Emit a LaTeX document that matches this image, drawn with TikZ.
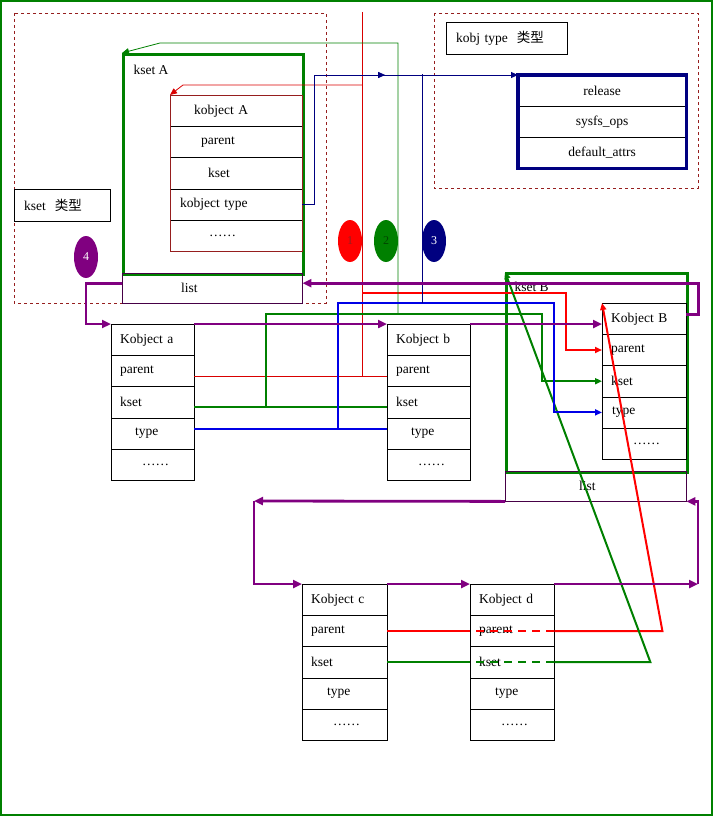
\documentclass[tikz,border=0pt]{standalone}
\usepackage{fontspec}
\setmainfont{Liberation Serif}
\newfontfamily\cjk{Noto Sans CJK SC}
\usetikzlibrary{arrows.meta,shapes.geometric,decorations.markings}
\definecolor{kgreen}{RGB}{0,128,0}
\definecolor{kdgreen}{RGB}{0,70,0}
\definecolor{kred}{RGB}{255,0,0}
\definecolor{kdred}{RGB}{150,30,30}
\definecolor{knavy}{RGB}{0,0,128}
\definecolor{kblue}{RGB}{0,0,230}
\definecolor{kpurple}{RGB}{128,0,128}
\definecolor{kdpurple}{RGB}{70,0,70}

\begin{document}
\begin{tikzpicture}
[x=1pt,y=-1pt,font=\fontsize{13.5}{15}\selectfont,
  >={Triangle[length=7pt,width=6pt]},
  cell/.style={draw,anchor=north west,minimum height=31.2pt,inner sep=0pt,align=left},
  titlebox/.style={draw,anchor=north west,minimum height=32pt,inner sep=0pt,align=left},
  setbox/.style={draw=kgreen,line width=3pt,anchor=north west,inner sep=0pt},
  listbox/.style={draw=kdpurple,anchor=north west,minimum height=30pt,inner sep=0pt,align=left},
  typebox/.style={draw=kdred,dashed},
  badge/.style={ellipse,minimum width=24pt,minimum height=42pt,inner sep=0pt,font=\fontsize{12}{14}\selectfont},
  redline/.style={kred,line width=2pt},
  redthin/.style={kred!85!black,line width=0.8pt},
  greenline/.style={kgreen,line width=2pt},
  greenthin/.style={kgreen,line width=0.8pt},
  blueline/.style={kblue,line width=2pt},
  navythin/.style={knavy,line width=0.9pt},
  listline/.style={kpurple,line width=2.8pt,>={Triangle[length=9pt,width=8pt]}}]
\useasboundingbox (0,0) rectangle (713,816);
\draw[kgreen,line width=2pt] (1,1) rectangle (712,815);

%% type areas
\draw[typebox] (14,13) rectangle (326,303);
\draw[typebox] (434,13) rectangle (698,188);
\node[titlebox,text width=96pt] (ksettitle) at (14,189) {\hspace*{10pt}kset\ \ {\cjk 类型}};
\node[titlebox,text width=121pt] (kobjtitle) at (446,22) {\hspace*{10pt}kobj type\ \ {\cjk 类型}};

%% kobj type
\foreach \txt [count=\i] in {release, sysfs\_ops, default\_attrs} {
  \node[cell,text width=168pt,align=center] (kt\i) at (518,{75+31*(\i-1)}) {\txt};
}
\draw[knavy,line width=3.5pt] (kt1.north west) rectangle (kt3.south east);

%% kset A
\node[setbox,minimum width=180pt,minimum height=220pt,
  label={[anchor=north west,xshift=8pt,yshift=-9pt]north west:kset A}] (ksetA) at (122,53) {};
\foreach \txt/\ind [count=\i] in {kobject A/24, parent/31, kset/38, kobject type/10, ……/39} {
  \node[cell,text width=132pt] (kA\i) at (170,{95+31.2*(\i-1)}) {\hspace*{\ind pt}\txt};
}
\draw[kdred] (kA1.north west) rectangle (kA5.south east);
\node[listbox,text width=180pt] (listA) at (122,273) {\hspace*{59pt}list};

%% kset B
\node[setbox,minimum width=181pt,minimum height=199pt,
  label={[anchor=north west,xshift=6pt,yshift=-7pt]north west:kset B}] (ksetB) at (505,272) {};
\node[listbox,text width=181pt] (listB) at (505,471) {\hspace*{74pt}list};

%% kobjects
\foreach \tb/\x/\y/\w/\ti/\nm in {a/111/324/83/24/Kobject a, b/387/324/83/24/Kobject b,
    B/602/303/84/10/Kobject B, c/302/584/85/25/Kobject c, d/470/584/84/25/Kobject d} {
  \foreach \txt/\ind [count=\i] in {\nm/9, parent/9, kset/9, type/\ti, ……/31} {
    \node[cell,text width=\w pt] (k\tb\i) at (\x,{\y+31.2*(\i-1)}) {\hspace*{\ind pt}\txt};
  }
}

%% badges
\foreach \n/\x/\y/\c/\t in {1/350/241/kred/kdred, 2/386/241/kgreen/kdgreen,
    3/434/241/knavy/white, 4/86/257/kpurple/white} {
  \node[badge,fill=\c,text=\t] (badge\n) at (\x,\y) {\n};
}

%% parent
\coordinate (redtop) at (362,12);
\draw[redthin] ([yshift=-5pt]ka2.east) -- ([yshift=-5pt]kb2.west);
\draw[redthin] (redtop) -- (362,376);
\draw[redthin,->] (362,85) -- (183,85) -- (kA1.north west);
\draw[redline,->] (362,293) -- (566,293) |- (kB2.west);
\draw[redline] (kc2.east) -- (kd2.west);
\draw[redline,dash pattern=on 8pt off 6pt] ([xshift=6pt]kd2.west) -- (kd2.east);
\draw[redline,->] (kd2.east) -- ++(108,0) -- (kB1.north west);

%% kset
\draw[greenline] ([yshift=-5pt]ka3.east) -- ([yshift=-5pt]kb3.west);
\draw[greenline,->] ([xshift=72pt,yshift=-5pt]ka3.east) |- (542,314) |- (kB3.west);
\draw[greenthin,->] (398,314) -- (398,43) -- (160,43) -- (ksetA.north west);
\draw[greenline] (kc3.east) -- (kd3.west);
\draw[greenline,dash pattern=on 8pt off 6pt] ([xshift=6pt]kd3.west) -- (kd3.east);
\draw[greenline,->] (kd3.east) -- ++(96,0) -- (ksetB.north west);

%% type
\draw[blueline] ([yshift=4pt]ka4.east) -- ([yshift=4pt]kb4.west);
\draw[blueline,->] ([xshift=144pt,yshift=4pt]ka4.east) |- (554,303) |- (kB4.west);
\draw[navythin] (422,74) -- (422,303);
\draw[navythin,->,postaction={decorate},
  decoration={markings,mark=at position 0.615 with {\arrow{>}}}]
  (kA4.east) -- ++(12,0) |- (kt1.north west);

%% list
\draw[listline,->] ([yshift=5pt]listA.west) -- ++(-36,0) |- (ka1.north west);
\draw[listline,->] (ka1.north east) -- (kb1.north west);
\draw[listline,->] (kb1.north east) -- (kb1.north east -| kB1.west);
\draw[listline,->] ([yshift=4pt]kB1.east) -- ++(12,0) |- ([yshift=5pt]listA.east);
\draw[listline,->] (listB.south west) -- (254,501);
\draw[listline,->] (254,501) |- (kc1.north west);
\draw[listline,->] (kc1.north east) -- (kd1.north west);
\draw[listline,->] (kd1.north east) -- (698,584);
\draw[listline,->] (698,584) |- (listB.south east);
\end{tikzpicture}
\end{document}
